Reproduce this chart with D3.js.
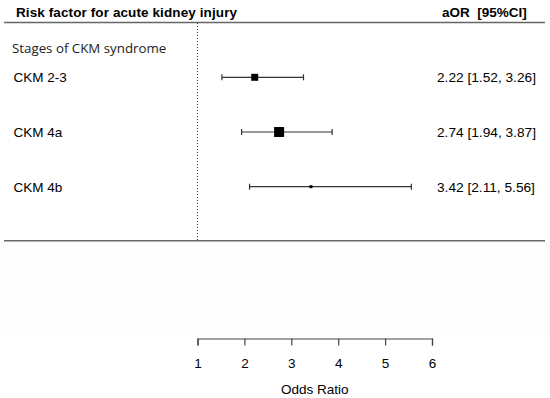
<!DOCTYPE html>
<html>
<head>
<meta charset="utf-8">
<script src="https://cdn.jsdelivr.net/npm/d3@7"></script>
<style>
  body { margin: 0; background: #fff; }
  svg { display: block; }
</style>
</head>
<body>
<div id="chart"></div>
<script>
var groupTitle = "Stages of CKM syndrome";
var stages = ["CKM 2-3", "CKM 4a", "CKM 4b"];
var aor = [2.22, 2.74, 3.42];
var lower = [1.52, 1.94, 2.11];
var upper = [3.26, 3.87, 5.56];
var weights = [0.7, 1, 0.3];
var ticks = [1, 2, 3, 4, 5, 6];

var width = 550, height = 398;
var svg = d3.select("#chart")
  .append("svg")
    .attr("width", width)
    .attr("height", height);

var x = d3.scaleLinear().domain([1, 6]).range([197.5, 432]);
var y = d3.scalePoint().domain(stages).range([77.3, 186.7]);
var box = d3.scaleLinear().domain([0, 1]).range([0, 10]);

var rows = stages.map(function(s, i) {
	return { name: s, est: aor[i], lo: lower[i], hi: upper[i], w: weights[i] };
});

// light panel under the table
svg.append("rect")
    .attr("x", 0).attr("y", 241)
    .attr("width", width).attr("height", 96)
    .style("fill", "#fdfdfd");

// header
svg.append("text")
    .attr("x", 16).attr("y", 16.5)
    .style("font-family", "'Liberation Sans', Arial, sans-serif")
    .style("font-weight", "bold")
    .style("font-size", "13.5px")
    .attr("textLength", 221)
    .text("Risk factor for acute kidney injury");
svg.append("text")
    .attr("x", 442).attr("y", 16.5)
    .style("font-family", "'Liberation Sans', Arial, sans-serif")
    .style("font-weight", "bold")
    .style("font-size", "13.5px")
    .style("white-space", "pre")
    .text("aOR  [95%CI]");

svg.append("line")
    .attr("x1", 4).attr("x2", 545)
    .attr("y1", 22.5).attr("y2", 22.5)
    .style("stroke", "#666")
    .style("stroke-width", 1.6);
svg.append("line")
    .attr("x1", 4).attr("x2", 545)
    .attr("y1", 240.8).attr("y2", 240.8)
    .style("stroke", "#666")
    .style("stroke-width", 1.6);

// null line
svg.append("line")
    .attr("x1", x(1)).attr("x2", x(1))
    .attr("y1", 23).attr("y2", 240)
    .style("stroke", "#333")
    .style("stroke-width", 1)
    .style("stroke-dasharray", "1,2");

svg.append("text")
    .attr("x", 12).attr("y", 53)
    .style("font-family", "'Open Sans', sans-serif")
    .style("font-size", "13.3px")
    .style("fill", "#222")
    .text(groupTitle);

var row = svg.selectAll("g.row")
    .data(rows)
  .enter().append("g")
    .attr("class", "row")
    .attr("transform", function(d) { return "translate(0," + y(d.name) + ")"; });

row.append("text")
    .attr("x", 13.5)
    .attr("dy", "0.36em")
    .style("font-family", "'Liberation Sans', Arial, sans-serif")
    .style("font-size", "13.5px")
    .text(function(d) { return d.name; });

row.append("text")
    .attr("x", 437)
    .attr("dy", "0.36em")
    .style("font-family", "'Liberation Sans', Arial, sans-serif")
    .style("font-size", "13.7px")
    .text(function(d) {
		return d.est.toFixed(2) + " [" + d.lo.toFixed(2) + ", " + d.hi.toFixed(2) + "]";
    });

// CI whiskers
row.append("line")
    .attr("x1", function(d) { return x(d.lo); })
    .attr("x2", function(d) { return x(d.hi); })
    .style("stroke", "#333")
    .style("stroke-width", 1.2);
row.append("line")
    .attr("x1", function(d) { return x(d.lo); })
    .attr("x2", function(d) { return x(d.lo); })
    .attr("y1", -3).attr("y2", 3)
    .style("stroke", "#333")
    .style("stroke-width", 1.2);
row.append("line")
    .attr("x1", function(d) { return x(d.hi); })
    .attr("x2", function(d) { return x(d.hi); })
    .attr("y1", -3).attr("y2", 3)
    .style("stroke", "#333")
    .style("stroke-width", 1.2);

row.append("rect")
    .attr("x", function(d) { return x(d.est) - box(d.w) / 2; })
    .attr("y", function(d) { return -box(d.w) / 2; })
    .attr("width", function(d) { return box(d.w); })
    .attr("height", function(d) { return box(d.w); })
    .style("fill", "#000");

// axis
var axis = svg.append("g")
    .attr("transform", "translate(0,338.5)")
    .call(d3.axisBottom(x).tickValues(ticks).tickSize(7).tickPadding(13).tickFormat(d3.format("d")));
axis.select(".domain").style("stroke", "#444").style("stroke-width", 1.2);
axis.selectAll(".tick line").style("stroke", "#444").style("stroke-width", 1.2);
axis.selectAll(".tick text")
    .style("font-family", "'Liberation Sans', Arial, sans-serif")
    .style("font-size", "13.5px")
    .style("fill", "#000");

svg.append("text")
    .attr("x", (x(1) + x(6)) / 2)
    .attr("y", 394)
    .attr("text-anchor", "middle")
    .style("font-family", "'Liberation Sans', Arial, sans-serif")
    .style("font-size", "13.5px")
    .text("Odds Ratio");
</script>
</body>
</html>
